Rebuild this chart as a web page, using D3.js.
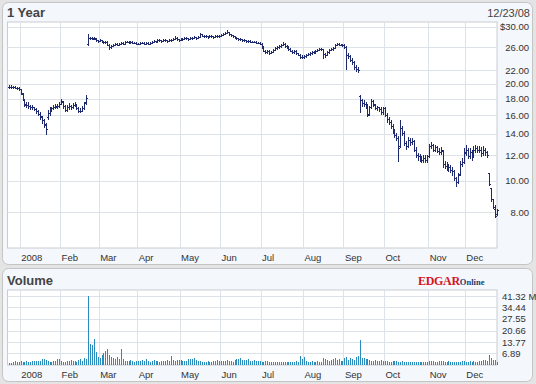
<!DOCTYPE html>
<html><head><meta charset="utf-8">
<script src="https://cdn.jsdelivr.net/npm/d3@7"></script>
<style>html,body{margin:0;padding:0;background:#e4e4e4;}svg{display:block;}</style>
</head><body>
<script>
// ---------- DATA ----------
const monthLabels = ["2008","Feb","Mar","Apr","May","Jun","Jul","Aug","Sep","Oct","Nov","Dec"];
const monthStartIdx = [6,27,47,67,89,110,131,153,174,195,218,237];
const priceTicks = [30,26,22,20,18,16,14,12,10,8];
const volumeTicks = [41.32,34.44,27.55,20.66,13.77,6.89];
const nDays = 254;
const close = [
19.6,19.5,19.6,19.4,19.4,19.2,18.7,17.9,17.2,17.2,
17.1,16.9,16.9,16.7,16.5,16.1,15.9,15.4,15.0,14.5,
16.2,16.6,16.8,16.9,17.1,17.1,17.3,17.7,17.1,16.6,
16.9,17.1,16.9,17.2,17.3,16.8,16.5,16.5,16.8,17.4,
18.1,27.7,27.8,27.7,27.7,27.3,27.1,27.3,27.1,26.96,
27.0,26.4,26.0,26.2,26.4,26.6,26.4,26.6,26.8,26.6,
27.0,27.0,26.8,27.0,26.8,26.8,26.6,26.6,26.8,26.8,
26.6,26.8,26.6,26.8,27.0,27.1,27.0,27.3,27.3,27.1,
27.3,27.3,27.1,27.3,27.3,27.5,27.8,27.5,27.3,27.5,
27.5,27.7,27.7,27.5,27.7,27.7,27.9,27.7,27.9,28.5,
28.1,28.1,28.1,27.9,28.1,28.1,27.9,28.1,28.1,28.1,
28.3,28.5,28.8,28.9,28.5,28.3,28.1,27.9,27.7,27.5,
27.5,27.3,27.3,27.1,27.1,27.0,27.0,27.0,26.8,26.8,
26.6,26.0,25.3,25.1,25.3,24.9,25.1,25.5,25.8,26.0,
26.2,26.4,26.6,26.2,26.0,25.6,25.3,25.1,25.3,24.9,
24.6,24.2,24.2,24.4,24.6,24.7,24.9,25.1,25.1,25.3,
25.5,25.6,25.6,24.7,24.6,25.1,25.5,25.6,25.8,26.4,
26.6,26.4,26.4,26.4,26.0,24.6,24.4,23.7,23.3,22.6,
22.3,22.0,17.8,17.4,17.3,17.1,16.0,16.9,17.7,17.3,
16.8,16.9,16.7,16.3,16.8,16.0,15.5,15.2,14.8,14.3,
13.9,13.6,12.6,14.6,14.1,13.1,12.8,13.4,13.2,13.3,
12.5,12.0,11.9,11.7,11.6,11.8,11.6,11.9,12.8,12.9,
12.5,12.7,12.4,12.3,12.5,11.3,11.1,11.1,11.0,10.8,
10.7,10.2,9.9,10.4,11.3,11.4,12.3,12.5,11.9,12.3,
11.9,12.5,12.6,12.5,12.5,12.2,12.5,12.3,12.0,9.8,
8.8,8.3,7.8,8.1];
const open = [
19.5,19.6,19.5,19.6,19.4,19.4,19.2,18.6,17.8,17.3,
17.2,17.1,16.9,16.9,16.7,16.5,16.1,15.8,15.4,14.9,
15.8,16.2,16.6,16.8,16.9,17.0,17.1,17.3,17.6,17.1,
16.6,16.9,17.1,16.9,17.2,17.2,16.8,16.5,16.5,16.8,
17.5,26.6,27.7,27.8,27.6,27.6,27.3,27.1,27.3,27.1,
26.9,27.0,26.4,26.0,26.2,26.4,26.6,26.4,26.6,26.8,
26.6,27.0,27.0,26.8,27.0,26.8,26.8,26.6,26.6,26.8,
26.8,26.6,26.8,26.6,26.8,27.0,27.1,27.0,27.3,27.3,
27.1,27.3,27.3,27.1,27.3,27.3,27.5,27.8,27.5,27.3,
27.5,27.5,27.7,27.7,27.5,27.7,27.7,27.9,27.7,27.9,
28.5,28.1,28.1,28.1,27.9,28.1,28.1,27.9,28.1,28.1,
28.1,28.3,28.5,28.8,28.9,28.5,28.3,28.1,27.9,27.7,
27.5,27.5,27.3,27.3,27.1,27.1,27.0,27.0,27.0,26.8,
26.8,26.6,26.0,25.3,25.1,25.3,24.9,25.1,25.5,25.8,
26.0,26.2,26.4,26.6,26.2,26.0,25.6,25.3,25.1,25.3,
24.9,24.6,24.2,24.2,24.4,24.6,24.7,24.9,25.1,25.1,
25.3,25.5,25.6,25.6,24.7,24.6,25.1,25.5,25.6,25.8,
26.4,26.6,26.4,26.4,26.4,26.0,24.6,24.4,23.7,23.3,
22.6,22.3,18.3,17.8,17.4,17.3,17.0,16.1,16.9,17.7,
17.2,16.8,16.9,16.7,16.3,16.8,16.0,15.5,15.2,14.8,
14.3,13.9,13.6,12.8,14.6,14.1,13.1,12.8,13.4,13.2,
13.3,12.5,12.0,11.9,11.7,11.6,11.8,11.6,11.9,12.8,
12.9,12.5,12.7,12.4,12.3,12.4,11.3,11.1,11.1,11.0,
10.8,10.7,10.2,9.9,10.5,11.3,11.4,12.2,12.5,11.9,
12.3,11.9,12.5,12.6,12.5,12.5,12.2,12.5,12.3,10.6,
9.5,8.8,8.2,7.9];
const high = [
19.8,19.8,19.7,19.7,19.6,19.5,19.3,18.7,17.9,17.6,
17.5,17.2,17.2,17.0,16.8,16.6,16.3,15.9,15.5,15.1,
16.6,16.9,17.0,17.2,17.3,17.3,17.5,18.0,17.7,17.2,
17.2,17.4,17.2,17.4,17.5,17.3,16.9,16.8,17.1,17.6,
18.5,28.6,28.0,27.9,27.9,27.7,27.4,27.5,27.4,27.2,
27.2,27.1,26.5,26.4,26.6,26.8,26.7,26.8,27.0,26.9,
27.2,27.2,27.1,27.2,27.1,27.0,26.9,26.8,27.0,27.0,
26.9,27.0,26.9,27.0,27.2,27.3,27.2,27.5,27.5,27.4,
27.5,27.5,27.4,27.5,27.5,27.7,28.1,27.9,27.6,27.7,
27.7,27.9,27.9,27.8,27.9,27.9,28.1,28.0,28.1,28.7,
28.6,28.3,28.3,28.2,28.3,28.3,28.2,28.3,28.3,28.3,
28.5,28.7,29.0,29.3,29.0,28.6,28.4,28.2,28.0,27.8,
27.7,27.6,27.5,27.4,27.3,27.3,27.2,27.2,27.1,27.0,
26.9,26.7,26.1,25.5,25.5,25.4,25.3,25.7,26.0,26.2,
26.4,26.6,26.9,26.7,26.3,26.1,25.8,25.5,25.5,25.4,
25.0,24.8,24.5,24.6,24.8,24.9,25.1,25.3,25.3,25.5,
25.7,25.8,25.9,25.7,24.9,25.3,25.7,25.8,26.0,26.6,
26.8,26.8,26.6,26.6,26.5,26.1,24.9,24.6,24.0,23.5,
22.9,22.6,18.5,17.9,17.8,17.6,17.3,17.1,17.9,17.8,
17.3,17.1,17.0,16.9,17.0,16.9,16.2,15.8,15.4,15.0,
14.5,14.1,13.8,15.4,14.8,14.3,13.3,13.7,13.6,13.6,
13.4,12.7,12.2,12.1,11.9,12.0,12.0,12.0,13.0,13.2,
13.0,12.9,12.8,12.6,12.7,12.5,11.5,11.4,11.3,11.2,
11.0,10.8,10.3,10.6,11.5,11.8,12.6,12.9,12.6,12.6,
12.5,12.8,12.9,12.8,12.8,12.7,12.8,12.6,12.4,10.6,
9.5,8.8,8.4,8.2];
const low = [
19.3,19.4,19.3,19.3,19.2,19.1,18.5,17.7,17.0,16.9,
16.8,16.7,16.6,16.5,16.2,15.9,15.5,15.1,14.6,13.9,
15.5,16.0,16.4,16.6,16.8,16.8,16.9,17.2,16.8,16.4,
16.4,16.7,16.7,16.8,17.0,16.6,16.3,16.3,16.4,16.7,
17.3,26.2,27.4,27.5,27.4,27.1,26.9,27.0,26.9,26.7,
26.7,26.3,25.5,25.8,26.1,26.3,26.2,26.3,26.5,26.4,
26.5,26.8,26.6,26.7,26.6,26.6,26.4,26.4,26.5,26.6,
26.4,26.5,26.4,26.5,26.7,26.9,26.8,26.9,27.1,26.9,
27.0,27.1,26.9,27.0,27.1,27.2,27.4,27.3,27.1,27.2,
27.3,27.4,27.5,27.3,27.4,27.5,27.6,27.5,27.6,27.8,
28.0,27.9,27.9,27.7,27.8,27.9,27.7,27.8,27.9,27.9,
28.0,28.2,28.4,28.6,28.3,28.1,27.9,27.7,27.5,27.3,
27.3,27.1,27.1,26.9,26.9,26.8,26.8,26.8,26.6,26.6,
26.4,25.8,25.1,24.8,24.9,24.7,24.8,25.0,25.3,25.6,
25.8,26.0,26.2,26.0,25.8,25.4,25.1,24.9,24.9,24.7,
24.4,24.0,24.0,24.0,24.2,24.4,24.5,24.7,24.8,24.9,
25.1,25.3,25.4,23.9,24.2,24.5,24.9,25.3,25.4,25.7,
26.2,26.2,26.2,26.1,25.8,22.1,24.0,23.5,22.9,22.2,
21.9,21.7,16.3,17.0,17.0,16.8,15.8,16.0,16.8,17.0,
16.6,16.5,16.4,16.1,16.1,15.8,15.2,14.9,14.5,14.0,
13.6,13.3,11.5,12.7,13.8,12.9,12.5,12.7,12.9,13.0,
12.3,11.8,11.6,11.5,11.4,11.4,11.4,11.4,11.8,12.6,
12.3,12.3,12.2,12.1,12.1,11.0,10.9,10.8,10.7,10.6,
10.4,10.0,9.6,9.8,10.4,11.1,11.3,12.0,11.7,11.7,
11.6,11.8,12.2,12.2,12.2,11.9,12.0,12.0,11.8,9.7,
8.6,8.2,7.7,7.8];
const volume = [
1.2,1.3,1.5,2.5,2.0,1.8,2.2,2.0,1.9,2.1,
2.0,1.8,2.2,2.4,2.1,2.5,2.6,3.4,3.6,3.0,
2.4,2.0,1.9,2.1,2.6,3.5,3.3,2.2,1.8,2.0,
2.4,2.1,2.9,2.6,2.2,2.0,3.0,3.3,2.6,4.2,
3.5,41.32,12.4,11.8,15.8,7.5,5.0,4.2,5.8,7.0,
8.1,9.3,6.0,5.0,4.3,3.6,4.8,3.8,9.8,3.5,
2.5,2.4,2.6,3.0,2.2,2.0,2.5,2.1,2.4,3.2,
2.6,3.8,2.3,2.0,2.4,2.7,2.2,2.6,2.0,2.3,
2.6,2.5,3.2,2.4,5.3,2.8,2.4,2.7,2.8,3.0,
2.2,2.4,2.6,3.5,3.8,3.7,3.9,3.2,2.3,2.2,
2.0,1.8,1.9,2.2,2.0,1.8,2.1,2.5,2.9,2.3,
2.1,2.5,2.2,2.8,2.4,2.6,2.0,3.0,3.6,3.3,
4.1,2.8,3.2,2.9,3.5,2.6,2.2,2.8,2.5,2.3,
2.1,2.0,1.9,2.2,2.4,1.8,1.9,2.0,1.7,1.8,
1.9,1.6,1.8,1.9,1.5,1.7,1.8,1.6,1.9,2.2,
2.0,5.2,3.6,4.6,2.4,1.8,2.0,2.4,1.6,1.8,
2.1,1.7,2.0,4.3,3.4,2.9,2.2,2.8,3.5,4.0,
3.0,3.4,2.6,2.3,3.9,4.7,3.1,4.2,3.8,2.8,
4.9,5.5,14.7,4.2,4.1,3.8,3.4,2.9,2.6,2.4,
2.7,2.3,2.5,2.9,2.2,2.1,2.6,2.0,1.9,2.3,
2.4,2.2,2.0,1.8,2.1,1.9,1.6,2.0,1.8,1.7,
1.9,2.0,1.7,1.6,1.8,1.9,2.0,1.7,2.2,2.4,
2.3,2.0,1.9,2.1,2.5,2.2,2.0,1.9,2.1,1.8,
1.9,2.0,1.8,1.9,2.0,2.1,2.3,1.8,2.0,2.1,
1.9,2.2,2.0,1.8,2.1,2.3,2.7,3.1,2.6,6.0,
4.2,3.1,2.7,1.9];

// ---------- LAYOUT ----------
const W = 536, H = 384;
const PL = 7.5, PR = 497;
const P1 = {top: 22, bottom: 248};
const P2 = {top: 290, bottom: 365};
const FONT = "'Liberation Sans', Arial, sans-serif";

const svg = d3.select("body").append("svg").attr("width", W).attr("height", H);
svg.append("rect").attr("width", W).attr("height", H).attr("fill", "#e4e4e4");

// panels
svg.append("rect").attr("x", 2.5).attr("y", 2.5).attr("width", 530).attr("height", 262)
  .attr("rx", 6).attr("fill", "#f4f7fb").attr("stroke", "#c4c4c4");
svg.append("rect").attr("x", 2.5).attr("y", 268.5).attr("width", 530).attr("height", 113)
  .attr("rx", 6).attr("fill", "#f4f7fb").attr("stroke", "#c4c4c4");

const x = d3.scaleLinear().domain([-0.3, nDays - 0.3]).range([PL, PR]);
const y = d3.scaleLog().domain([6.19, 31.09]).range([P1.bottom, P1.top]);
const yv = d3.scaleLinear().domain([0, 41.32]).range([P2.bottom, 296]);

function plotArea(p) {
  svg.append("rect").attr("x", PL).attr("y", p.top).attr("width", PR - PL).attr("height", p.bottom - p.top)
    .attr("fill", "#ffffff").attr("stroke", "#c8ccd2");
}
plotArea(P1); plotArea(P2);

const gridColor = "#dde1e8";
[P1, P2].forEach(p => {
  svg.append("g").selectAll("line").data(monthStartIdx).join("line")
    .attr("x1", d => Math.round(x(d)) + 0.5).attr("x2", d => Math.round(x(d)) + 0.5)
    .attr("y1", p.top).attr("y2", p.bottom).attr("stroke", gridColor);
});
svg.append("g").selectAll("line").data(priceTicks).join("line")
  .attr("x1", PL).attr("x2", PR)
  .attr("y1", d => Math.round(y(d)) + 0.5).attr("y2", d => Math.round(y(d)) + 0.5)
  .attr("stroke", gridColor);
svg.append("g").selectAll("line").data(volumeTicks).join("line")
  .attr("x1", PL).attr("x2", PR)
  .attr("y1", d => Math.round(yv(d)) + 0.5).attr("y2", d => Math.round(yv(d)) + 0.5)
  .attr("stroke", gridColor);

// price OHLC bars
const idx = d3.range(nDays);
const priceColor = "#1f2a6e";
const gP = svg.append("g").attr("stroke", priceColor).attr("stroke-width", 1).attr("shape-rendering", "crispEdges");
idx.forEach(i => {
  const cx = Math.round(x(i + 0.5)) + 0.5;
  gP.append("line").attr("x1", cx).attr("x2", cx).attr("y1", y(high[i])).attr("y2", y(low[i]) + 0.5);
  gP.append("line").attr("x1", cx - 1.5).attr("x2", cx).attr("y1", Math.round(y(open[i])) + 0.5).attr("y2", Math.round(y(open[i])) + 0.5);
  gP.append("line").attr("x1", cx).attr("x2", cx + 1.5).attr("y1", Math.round(y(close[i])) + 0.5).attr("y2", Math.round(y(close[i])) + 0.5);
});

// volume bars
svg.append("g").selectAll("rect").data(idx).join("rect")
  .attr("x", i => Math.round(x(i + 0.5)))
  .attr("width", 1)
  .attr("y", i => Math.round(yv(volume[i])))
  .attr("height", i => Math.max(1, Math.round(yv(0)) - Math.round(yv(volume[i]))))
  .attr("fill", "#2a8cbd").attr("shape-rendering", "crispEdges");

// axis labels
svg.append("g").selectAll("text").data(priceTicks).join("text")
  .attr("x", 529).attr("y", d => y(d) + 3.5).attr("text-anchor", "end")
  .attr("font-family", FONT).attr("font-size", 9.5).attr("fill", "#333")
  .text(d => (d === 30 ? "$" : "") + d.toFixed(2));
svg.append("g").selectAll("text").data(volumeTicks).join("text")
  .attr("x", 502).attr("y", d => yv(d) + 3.5)
  .attr("font-family", FONT).attr("font-size", 9.5).attr("fill", "#333")
  .text((d, i) => d.toFixed(2) + (i === 0 ? " M" : ""));

[P1, P2].forEach(p => {
  svg.append("g").selectAll("text").data(monthStartIdx).join("text")
    .attr("x", d => x(d) + 1.5).attr("y", p.bottom + 13)
    .attr("font-family", FONT).attr("font-size", 9.5).attr("fill", "#333")
    .text((d, i) => monthLabels[i]);
});

// titles
svg.append("text").attr("x", 7).attr("y", 17).attr("font-family", FONT).attr("font-size", 13)
  .attr("font-weight", "bold").attr("fill", "#444").text("1 Year");
svg.append("text").attr("x", 530).attr("y", 17).attr("text-anchor", "end").attr("font-family", FONT)
  .attr("font-size", 11).attr("fill", "#444").text("12/23/08");
svg.append("text").attr("x", 7).attr("y", 285).attr("font-family", FONT).attr("font-size", 13)
  .attr("font-weight", "bold").attr("fill", "#444").text("Volume");
const logo = svg.append("text").attr("x", 418).attr("y", 285).attr("font-family", "'Liberation Serif', serif").attr("font-weight", "bold");
logo.append("tspan").attr("font-size", 12).attr("fill", "#d6141b").attr("letter-spacing", -0.3).text("EDGAR");
logo.append("tspan").attr("font-size", 8.5).attr("fill", "#1d3b6e").text("Online");
</script>
</body></html>
